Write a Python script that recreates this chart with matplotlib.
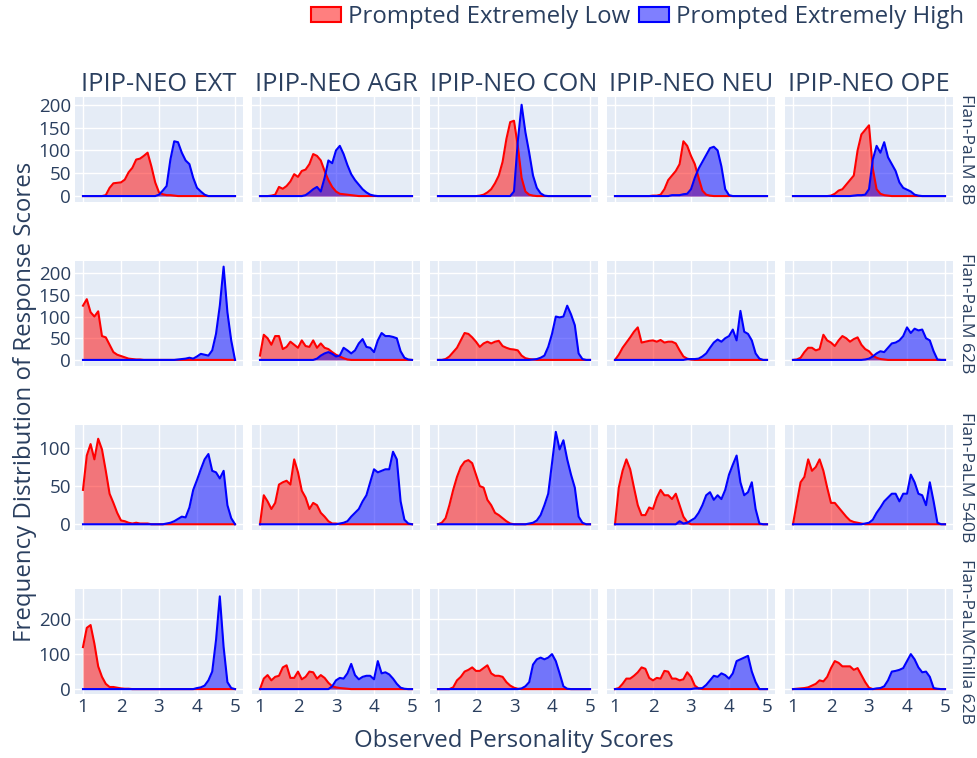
import numpy as np
import matplotlib.pyplot as plt
from matplotlib.patches import Patch

plt.rcParams['font.family'] = ['Open Sans', 'DejaVu Sans']

traits = ['IPIP-NEO EXT', 'IPIP-NEO AGR', 'IPIP-NEO CON', 'IPIP-NEO NEU', 'IPIP-NEO OPE']
models = ['Flan-PaLM 8B', 'Flan-PaLM 62B', 'Flan-PaLM 540B', 'Flan-PaLMChilla 62B']

# score grid: 1.0 .. 5.0 in steps of 0.1
scores = np.round(np.arange(1.0, 5.0001, 0.1), 1)

# each entry: (first score, counts every 0.1 from there); everything else is 0
low_8b = [
    (1.6, [2, 18, 28, 29, 30, 36, 52, 62, 80, 82, 88, 95, 65, 30, 8, 4, 2, 2, 1]),
    (1.3, [1, 3, 20, 16, 22, 32, 48, 42, 55, 58, 70, 92, 88, 78, 55, 35, 20, 10, 5, 4, 3, 2, 1]),
    (2.1, [1, 3, 8, 15, 28, 45, 75, 125, 162, 165, 110, 40, 10, 3, 1]),
    (2.0, [1, 1, 3, 15, 35, 45, 55, 70, 120, 110, 88, 70, 40, 12, 3, 1]),
    (2.0, [1, 5, 12, 15, 25, 35, 45, 100, 135, 145, 155, 60, 15, 5, 2, 1]),
]
high_8b = [
    (3.0, [3, 12, 22, 80, 120, 118, 95, 78, 70, 40, 18, 10, 3]),
    (2.2, [2, 8, 15, 20, 10, 40, 78, 72, 100, 110, 92, 68, 48, 35, 25, 15, 8, 3, 1]),
    (3.0, [10, 120, 200, 140, 95, 45, 18, 6, 1]),
    (2.5, [2, 2, 2, 4, 5, 15, 40, 60, 75, 90, 105, 108, 100, 65, 15, 2]),
    (2.6, [1, 2, 2, 3, 15, 80, 110, 95, 118, 85, 70, 55, 30, 18, 14, 10, 3, 1]),
]
low_62b = [
    (1.0, [125, 140, 110, 100, 112, 55, 52, 35, 18, 12, 9, 6, 3, 2, 1, 1]),
    (1.0, [10, 58, 50, 35, 55, 55, 25, 30, 42, 35, 28, 45, 32, 30, 45, 28, 38, 28, 25, 18, 12, 8, 4, 1]),
    (1.2, [2, 8, 18, 28, 45, 62, 60, 52, 42, 30, 38, 42, 38, 42, 44, 32, 28, 25, 24, 22, 10, 4, 2, 1]),
    (1.1, [12, 28, 40, 52, 65, 75, 40, 42, 44, 45, 42, 46, 40, 42, 42, 38, 22, 8, 3, 1]),
    (1.1, [1, 5, 18, 28, 28, 22, 25, 58, 45, 40, 32, 45, 55, 50, 42, 48, 52, 35, 25, 20, 10, 5, 2, 1]),
]
high_62b = [
    (3.5, [1, 2, 3, 5, 3, 8, 14, 12, 10, 22, 60, 125, 215, 110, 45]),
    (2.5, [3, 10, 15, 18, 14, 8, 10, 28, 22, 15, 22, 38, 48, 30, 28, 18, 45, 62, 55, 55, 53, 50, 20, 5, 1]),
    (3.5, [1, 2, 5, 10, 30, 60, 100, 98, 100, 125, 105, 80, 15, 2]),
    (2.9, [2, 2, 2, 3, 8, 15, 28, 40, 47, 42, 50, 55, 70, 45, 113, 65, 60, 45, 15, 3]),
    (2.9, [1, 3, 8, 15, 20, 18, 28, 38, 40, 45, 55, 75, 62, 72, 68, 70, 50, 45, 20, 1]),
]
low_540b = [
    (1.0, [45, 90, 105, 85, 112, 98, 70, 40, 28, 15, 5, 4, 2, 1, 2, 1, 1, 1]),
    (1.1, [38, 30, 20, 28, 52, 55, 57, 52, 85, 68, 44, 35, 20, 28, 25, 15, 10, 4, 1, 1]),
    (1.1, [2, 8, 25, 45, 62, 75, 82, 84, 80, 65, 50, 48, 32, 25, 15, 12, 8, 4, 1]),
    (1.1, [48, 70, 85, 72, 48, 25, 12, 12, 22, 20, 35, 45, 38, 38, 33, 40, 25, 10, 3]),
    (1.1, [28, 55, 62, 85, 70, 75, 85, 70, 48, 28, 28, 22, 16, 10, 5, 3, 2, 1]),
]
high_540b = [
    (3.2, [1, 2, 4, 7, 10, 9, 22, 45, 58, 72, 85, 92, 70, 68, 60, 70, 25, 8]),
    (3.1, [1, 2, 4, 10, 15, 20, 30, 38, 55, 72, 68, 70, 72, 72, 95, 85, 30, 6, 1]),
    (3.4, [1, 2, 5, 12, 25, 40, 80, 121, 98, 110, 85, 65, 48, 10, 2]),
    (2.7, [4, 1, 2, 5, 8, 15, 25, 38, 42, 32, 38, 33, 45, 65, 78, 90, 55, 38, 42, 55, 20, 1]),
    (2.9, [1, 2, 6, 15, 22, 30, 35, 40, 40, 30, 40, 40, 65, 55, 40, 38, 25, 55, 30, 2]),
]
low_chilla = [
    (1.0, [120, 175, 183, 130, 65, 35, 15, 6, 6, 4, 2, 1, 1]),
    (1.1, [30, 40, 25, 35, 38, 62, 68, 32, 32, 50, 28, 35, 50, 48, 30, 40, 32, 18, 8, 5, 3, 2, 1]),
    (1.4, [5, 25, 35, 50, 55, 62, 52, 52, 60, 68, 45, 38, 38, 35, 20, 10, 4, 1]),
    (1.1, [3, 15, 30, 30, 38, 48, 62, 58, 32, 25, 32, 30, 52, 50, 30, 30, 25, 28, 48, 35, 10, 2]),
    (1.1, [1, 2, 3, 5, 10, 15, 25, 22, 35, 60, 80, 75, 65, 65, 65, 55, 60, 40, 20, 4]),
]
high_chilla = [
    (4.0, [3, 5, 10, 25, 50, 140, 265, 120, 20, 3]),
    (2.9, [8, 25, 32, 30, 45, 72, 40, 28, 35, 38, 38, 28, 80, 45, 48, 42, 30, 15, 4, 1]),
    (3.2, [2, 8, 20, 70, 85, 90, 85, 90, 100, 80, 45, 8, 1]),
    (3.1, [2, 2, 3, 12, 25, 38, 35, 45, 40, 30, 45, 80, 85, 90, 95, 50, 20]),
    (3.2, [2, 3, 8, 25, 50, 52, 55, 60, 80, 100, 85, 62, 48, 50, 35, 3, 1]),
]

low_rows = [low_8b, low_62b, low_540b, low_chilla]
high_rows = [high_8b, high_62b, high_540b, high_chilla]

y_limits = [(-13, 217), (-14, 228), (-7.5, 130), (-14, 286)]
y_ticks = [[0, 50, 100, 150, 200], [0, 50, 100, 150, 200], [0, 50, 100], [0, 100, 200]]

TEXT = '#2a3f5f'
BG = '#E5ECF6'


def full(entry):
    start, vals = entry
    y = np.zeros(len(scores))
    i0 = int(round((start - 1.0) * 10))
    y[i0:i0 + len(vals)] = vals
    return y


def main():
    W, H = 977, 758
    fig = plt.figure(figsize=(W / 100, H / 100), dpi=100)

    lefts = [75, 252, 430, 607, 785]
    tops = [97, 261, 425, 589]
    pw, ph = 168, 105

    for r in range(4):
        for c in range(5):
            ax = fig.add_axes([lefts[c] / W, 1 - (tops[r] + ph) / H, pw / W, ph / H])
            ax.set_facecolor(BG)
            for s in ax.spines.values():
                s.set_visible(False)
            ax.set_xlim(0.79, 5.21)
            ax.set_ylim(*y_limits[r])
            ax.set_xticks([1, 2, 3, 4, 5])
            ax.set_yticks(y_ticks[r])
            ax.grid(True, color='white', lw=1)
            ax.set_axisbelow(True)
            ax.tick_params(length=0, labelsize=13.5, colors=TEXT, pad=3)
            if r < 3:
                ax.set_xticklabels([])
            if c > 0:
                ax.set_yticklabels([])

            lo = full(low_rows[r][c])
            hi = full(high_rows[r][c])
            ax.fill_between(scores, lo, 0, color='red', alpha=0.5, lw=0)
            ax.plot(scores, lo, color='red', lw=1.5)
            ax.fill_between(scores, hi, 0, color='blue', alpha=0.5, lw=0)
            ax.plot(scores, hi, color='blue', lw=1.5)

            if r == 0:
                ax.set_title(traits[c], fontsize=18.3, color=TEXT, pad=4)
            if c == 4:
                ax.text(1.03, 0.5, models[r], transform=ax.transAxes, rotation=-90,
                        ha='left', va='center', fontsize=12.5, color=TEXT)

    fig.text(25 / W, 1 - 402 / H, 'Frequency Distribution of Response Scores',
             rotation=90, ha='center', va='center', fontsize=17.3, color=TEXT)
    fig.text(514 / W, 1 - 741 / H, 'Observed Personality Scores',
             ha='center', va='center', fontsize=17.3, color=TEXT)

    handles = [Patch(facecolor=(1, 0, 0, 0.5), edgecolor='red', lw=1.5),
               Patch(facecolor=(0, 0, 1, 0.5), edgecolor='blue', lw=1.5)]
    leg = fig.legend(handles, ['Prompted Extremely Low', 'Prompted Extremely High'],
                     loc='upper right', bbox_to_anchor=(986 / W, 1.022), ncol=2,
                     frameon=False, fontsize=17.3, handlelength=1.25, handleheight=0.55,
                     columnspacing=0.35, handletextpad=0.3)
    for t in leg.get_texts():
        t.set_color(TEXT)

    fig.savefig('out.png', dpi=100)


if __name__ == "__main__":
    main()
